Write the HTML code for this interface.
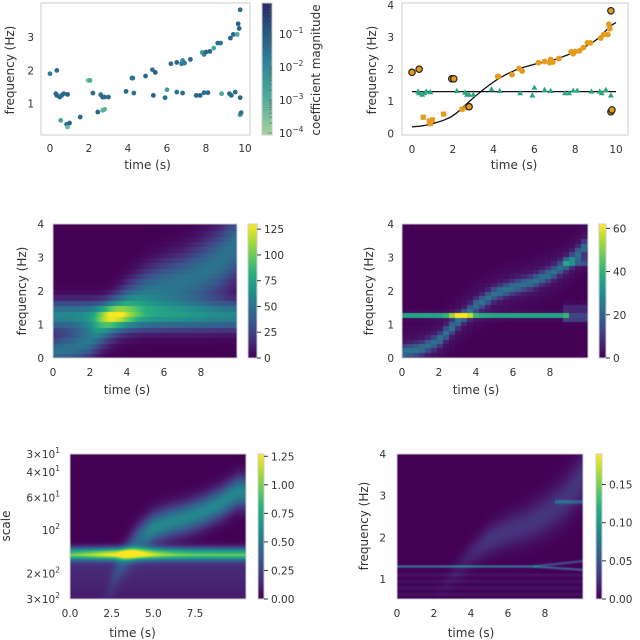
<!DOCTYPE html>
<html><head><meta charset="utf-8"><style>
body{margin:0;background:#fff;width:640px;height:640px;overflow:hidden;position:relative;font-family:"Liberation Sans","DejaVu Sans",sans-serif}
canvas{position:absolute}
svg{position:absolute;left:0;top:0}
text{font-family:"DejaVu Sans","Liberation Sans",sans-serif;fill:#333;font-size:10.5px}
</style></head><body>
<canvas id="c3"></canvas>
<canvas id="c4"></canvas>
<canvas id="c5"></canvas>
<canvas id="c6"></canvas>
<canvas id="cb1"></canvas>
<canvas id="cb3"></canvas>
<canvas id="cb4"></canvas>
<canvas id="cb5"></canvas>
<canvas id="cb6"></canvas>
<svg id="s" width="640" height="640"></svg>
<script>
// ---- data ----
const chirpT=[0.55,0.85,0.9,1.0,1.55,2.45,2.7,4.2,4.25,4.9,5.25,5.4,6.2,6.5,6.75,6.8,6.9,7.2,7.8,7.9,8.0,8.2,8.4,8.6,8.75,9.25,9.4,9.6,9.65,9.7];
const chirpF=[0.5,0.38,0.3,0.42,0.6,0.75,0.8,1.77,1.77,1.83,2.02,1.94,2.2,2.24,2.2,2.3,2.22,2.33,2.54,2.48,2.55,2.57,2.67,2.82,2.82,2.97,3.08,3.08,3.4,3.26];
const chirpMag=[-2.6,-1.2,-3.2,-1.0,-1.2,-1.1,-3.0,-1.3,-1.5,-1.2,-1.5,-1.0,-1.2,-1.1,-1.5,-2.0,-1.6,-1.2,-2.5,-1.8,-1.2,-1.2,-2.7,-1.3,-1.4,-1.1,-1.2,-2.8,-1.0,-1.2];
const toneT=[0.3,0.35,0.5,0.6,0.7,0.9,2.2,2.6,2.7,2.8,3.0,3.9,4.3,5.3,5.9,6.0,6.5,6.8,7.5,7.7,7.9,8.1,8.8,9.2,9.3,9.5,9.75];
const toneF=[1.3,1.25,1.2,1.25,1.3,1.28,1.32,1.27,1.2,1.2,1.2,1.37,1.32,1.25,1.18,1.42,1.35,1.32,1.25,1.25,1.33,1.33,1.3,1.3,1.25,1.35,1.18];
const toneMag=[-1.3,-1.2,-1.2,-1.3,-1.2,-1.1,-1.3,-1.4,-1.2,-1.3,-1.2,-1.2,-1.3,-1.1,-1.3,-2.5,-1.4,-1.3,-1.2,-1.1,-1.3,-1.2,-2.8,-1.3,-1.2,-1.3,-1.2];
const outT=[0.0,0.35,1.95,2.05,2.8,9.75,9.75,9.8];
const outF=[1.9,2.0,1.7,1.7,0.83,3.82,0.67,0.73];
const outMag=[-1.6,-1.3,-3.5,-2.8,-3.0,-1.3,-2.4,-1.4];
const fitT=[0,1,2,3,4,5,6,7,8,9,10];
const fitF=[0.2,0.3,0.55,1.1,1.6,1.95,2.15,2.3,2.55,2.9,3.45];
const toneLevel=1.3;
const crossT=3.3;
const xTicks10=[0,2,4,6,8,10];
const xTicks8=[0,2,4,6,8];
const xTicks5=[0,2.5,5,7.5];
const xTicks5Lab=["0.0","2.5","5.0","7.5"];
const fTicks=[0,1,2,3,4];
const cb3Ticks=[0,25,50,75,100,125];
const cb4Ticks=[0,20,40,60];
const cb5Ticks=[0,0.25,0.5,0.75,1.0,1.25];
const cb5Lab=["0.00","0.25","0.50","0.75","1.00","1.25"];
const cb6Ticks=[0,0.05,0.1,0.15];
const cb6Lab=["0.00","0.05","0.10","0.15"];
const scaleTicks=[30,40,60,100,200,300];
const scaleLab=[["3","1"],["4","1"],["6","1"],[null,"2"],["2","2"],["3","2"]];
const magTicks=[-4,-3,-2,-1];

// ---- helpers ----
const S=document.getElementById('s');const NS='http://www.w3.org/2000/svg';
function el(tag,a,p){const e=document.createElementNS(NS,tag);for(const k in a)e.setAttribute(k,a[k]);(p||S).appendChild(e);return e;}
function txt(x,y,s,anchor,size,rot){const t=el('text',{x:x,y:y,'text-anchor':anchor||'middle'});if(size)t.style.fontSize=size+'px';if(rot)t.setAttribute('transform','rotate(-90 '+x+' '+y+')');t.textContent=s;return t;}
function lin(d0,d1,r0,r1){return v=>r0+(v-d0)/(d1-d0)*(r1-r0);}
function interp(xs,ys,x){if(x<=xs[0])return ys[0];for(let i=1;i<xs.length;i++){if(x<=xs[i]){const u=(x-xs[i-1])/(xs[i]-xs[i-1]);return ys[i-1]+u*(ys[i]-ys[i-1]);}}return ys[ys.length-1];}
const VIR=[[0,[68,1,84]],[0.13,[71,44,122]],[0.25,[59,82,139]],[0.38,[44,114,142]],[0.5,[33,145,140]],[0.63,[39,173,129]],[0.75,[94,201,98]],[0.88,[170,220,50]],[1,[253,231,37]]];
const CREST=[[0,[167,212,155]],[0.3,[75,170,155]],[0.6,[43,124,150]],[0.8,[40,84,128]],[1,[40,42,105]]];
function cmap(st,v){v=Math.max(0,Math.min(1,v));for(let i=1;i<st.length;i++){if(v<=st[i][0]){const u=(v-st[i-1][0])/(st[i][0]-st[i-1][0]);const a=st[i-1][1],b=st[i][1];return 'rgb('+a.map((c,j)=>Math.round(c+u*(b[j]-c))).join(',')+')';}}return 'rgb('+st[st.length-1][1].join(',')+')';}
function setupCanvas(id,x0,y0,x1,y1){const c=document.getElementById(id);c.width=x1-x0;c.height=y1-y0;c.style.left=x0+'px';c.style.top=y0+'px';return c.getContext('2d');}
function frame(x0,y0,x1,y1,name){const r=el('rect',{x:x0,y:y0,width:x1-x0,height:y1-y0,fill:'none',stroke:'#cccccc','stroke-width':1});}
function xAxis(ticks,labs,sx,yb,labelY){ticks.forEach((t,i)=>{const tl=txt(sx(t),yb+17,labs?labs[i]:String(t));});const l=txt((sx(ticks[0])+sx(ticks[ticks.length-1]))/2,labelY,'time (s)','middle',12);}
function yAxis(ticks,sy,xl){ticks.forEach(t=>{const tl=txt(xl,sy(t)+4,String(t),'end');});}
function yTitle(x,y,s){const t=txt(x,y,s,'middle',12,true);}
function colorbar(id,x0,y0,x1,y1,st,ticks,labs,vmax){const c=setupCanvas(id,x0,y0,x1,y1);const h=y1-y0;for(let i=0;i<h;i++){c.fillStyle=cmap(st,1-i/h);c.fillRect(0,i,x1-x0,1);}
 frame(x0,y0,x1,y1,'colorbar-frame');const sy=lin(0,vmax,y1,y0);ticks.forEach((t,i)=>{const y=sy(t);el('line',{x1:x1,x2:x1+4,y1:y,y2:y,stroke:'#333','stroke-width':1});const tl=txt(x1+7,y+4,labs?labs[i]:String(t),'start');});}

// ===== Panel 1 =====
(function(){const x0=41,x1=250,y0=3,y1=135;const sx=lin(0,10,50,245),sy=lin(0,1,137,103.7);
 frame(x0,y0,x1,y1,'scatter-plot-frame');
 const sm=lin(-4,0,0,1);
 function dots(T,F,M,name){T.forEach((t,i)=>{const c=el('circle',{cx:sx(t),cy:sy(F[i]),r:2.4,fill:cmap(CREST,sm(M[i]))});});}
 dots(toneT,toneF,toneMag,'tone-point');dots(chirpT,chirpF,chirpMag,'chirp-point');dots(outT,outF,outMag,'outlier-point');
 xAxis(xTicks10,null,sx,y1,169);yAxis([1,2,3],sy,34);yTitle(14,70,'frequency (Hz)');
 const cy0=3,cy1=135;const c=setupCanvas('cb1',262,cy0,272,cy1);for(let i=0;i<cy1-cy0;i++){c.fillStyle=cmap(CREST,1-i/(cy1-cy0));c.fillRect(0,i,10,1);}
 frame(262,cy0,272,cy1,'colorbar-frame');const smy=lin(-4,-0.06,133,3);
 for(let d=-4;d<0;d++){for(let k=1;k<10;k++){const v=d+Math.log10(k);if(v>-0.06)break;const y=smy(v);el('line',{x1:k==1?268:269,x2:272,y1:y,y2:y,stroke:'#666','stroke-width':0.6});}}
 magTicks.forEach(m=>{const y=smy(m);const t=el('text',{x:279,y:y+4,'text-anchor':'start'});t.textContent='10';const s=el('tspan',{dy:-5},t);s.style.fontSize='7.5px';s.textContent='\u2212'+(-m);});
 const l=txt(320,70,'coefficient magnitude','middle',12,true);
})();

// ===== Panel 2 =====
(function(){const x0=402,x1=628,y0=3,y1=135;const sx=lin(0,10,412,616),sy=lin(0,4,133.3,5);
 frame(x0,y0,x1,y1,'ridge-plot-frame');
 let d='';for(let t=0;t<=10.001;t+=0.1){d+=(t?'L':'M')+sx(t).toFixed(1)+','+sy(interpS(t)).toFixed(1);}
 function interpS(t){// smooth (Catmull-Rom) through fit arrays
  const n=fitT.length;let i=Math.min(n-2,Math.floor(t));const u=t-fitT[i];const p0=fitF[Math.max(0,i-1)],p1=fitF[i],p2=fitF[i+1],p3=fitF[Math.min(n-1,i+2)];
  return 0.5*((2*p1)+(-p0+p2)*u+(2*p0-5*p1+4*p2-p3)*u*u+(-p0+3*p1-3*p2+p3)*u*u*u);}
 const tl=el('line',{x1:sx(0),x2:sx(10),y1:sy(toneLevel),y2:sy(toneLevel),stroke:'#111','stroke-width':1.3});
 const cl=el('path',{d:d,fill:'none',stroke:'#111','stroke-width':1.3});
 toneT.forEach((t,i)=>{const x=sx(t),y=sy(toneF[i]);const p=el('polygon',{points:`${x},${y-3.2} ${x-3},${y+2} ${x+3},${y+2}`,fill:'#2aa580'});});
 chirpT.forEach((t,i)=>{const x=sx(t),y=sy(chirpF[i]);let p;if(t<3)p=el('rect',{x:x-2.6,y:y-2.6,width:5.2,height:5.2,fill:'#e69a1e'});else p=el('circle',{cx:x,cy:y,r:2.9,fill:'#e69a1e'});});
 outT.forEach((t,i)=>{const p=el('circle',{cx:sx(t),cy:sy(outF[i]),r:3.2,fill:'#e69a1e',stroke:'#222','stroke-width':1.2});});
 xAxis(xTicks10,null,sx,y1+1,169);yAxis(fTicks,sy,394);yTitle(376,70,'frequency (Hz)');
})();

const ridge=t=>interp(fitT,fitF,t);
// ===== Panel 3 =====
(function(){const x0=53,x1=237,y0=224,y1=358;const c=setupCanvas('c3',x0,y0,x1,y1);const tAt=lin(x0,x1,0,9.95);const df=0.16;const ya=lin(0,4,y1,y0);
 for(let px=x0;px<x1;px++){const t=tAt(px+0.5);const r=ridge(t);const w=0.3+0.04*t;
  for(let f=-0.02;f<4;f+=df){const fc=f+df/2;let v=58*Math.exp(-Math.pow((fc-toneLevel)/0.3,2)/2)+48*Math.exp(-Math.pow((fc-r)/w,2)/2);
   v+=28*Math.exp(-Math.pow((t-crossT)/0.7,2)/2)*Math.exp(-Math.pow((fc-toneLevel)/0.15,2)/2);
   c.fillStyle=cmap(VIR,v/125);c.fillRect(px-x0,Math.floor(ya(f+df)-y0),1,Math.ceil(ya(f)-ya(f+df))+1);}}
 frame(x0,y0,x1,y1,'spectrogram-frame');const sx=lin(0,9.95,x0,x1),sy=lin(0,4,y1,y0);
 xAxis(xTicks8,null,sx,y1+1,394);yAxis(fTicks,sy,44);yTitle(26,291,'frequency (Hz)');
 colorbar('cb3',248,y0,257,y1,VIR,cb3Ticks,null,130);
})();

// ===== Panel 4 =====
(function(){const x0=402,x1=588,y0=224,y1=358;const c=setupCanvas('c4',x0,y0,x1,y1);const dt=0.32,df=0.13;const sx=lin(0,10,x0,x1+1),sy=lin(0,4,y1,y0);
 const fStart=toneLevel-df/2-Math.ceil((toneLevel-df/2)/df)*df;
 for(let t=0;t<10;t+=dt){const tc=t+dt/2;const r=ridge(tc);
  for(let f=fStart;f<4;f+=df){const fc=f+df/2;let v=(tc<9.0?36:8)*Math.exp(-Math.pow((fc-toneLevel)/0.05,2)/2)+20*Math.exp(-Math.pow((fc-r)/0.13,2)/2)+4*Math.exp(-Math.pow((fc-r)/0.4,2)/2);
   v+=24*Math.exp(-Math.pow((tc-3.1)/0.35,2)/2)*Math.exp(-Math.pow((fc-toneLevel)/0.05,2)/2);
   if(tc>8.8){v+=16*Math.exp(-Math.pow((fc-2.9)/0.07,2)/2)+12*Math.exp(-Math.pow((fc-1.2)/0.07,2)/2)+8*Math.exp(-Math.pow((fc-1.5)/0.1,2)/2);}
   c.fillStyle=cmap(VIR,v/62);c.fillRect(Math.floor(sx(t)-x0),Math.floor(sy(f+df)-y0),Math.ceil(sx(t+dt)-sx(t))+1,Math.ceil(sy(f)-sy(f+df))+1);}}
 frame(x0,y0,x1,y1,'reassigned-frame');
 xAxis(xTicks8,null,lin(0,2,402,439),y1+1,394);yAxis(fTicks,sy,394);yTitle(373,291,'frequency (Hz)');
 colorbar('cb4',599,y0,606,y1,VIR,cb4Ticks,null,62);
})();

// ===== Panel 5 =====
(function(){const x0=70,x1=246,y0=454,y1=599;const c=setupCanvas('c5',x0,y0,x1,y1);const tAt=lin(x0,x1,0,10.5);const k=190;const sTone=k/toneLevel;
 const syLog=s=>y0+145*Math.log10(s/30);
 for(let px=x0;px<x1;px++){const t=tAt(px+0.5);const sC=k/ridge(t);
  for(let py=y0;py<y1;py++){const s=30*Math.pow(10,(py+0.5-y0)/145);const dT=Math.log10(s/sTone),dC=Math.log10(s/sC);
   const ca=0.55*Math.min(1,Math.max(0,(t-2.3)/2.5))+0.05;
   let v=0.85*Math.exp(-Math.pow(dT/0.03,2)/2)+ca*Math.exp(-Math.pow(dC/0.075,2)/2);
   v+=0.4*Math.exp(-Math.pow((t-crossT)/1.6,2)/2)*Math.exp(-Math.pow(dT/0.025,2)/2);
   if(s>sTone)v+=0.17*Math.exp(-Math.pow(dT/0.3,2)/2);
   c.fillStyle=cmap(VIR,v/1.3);c.fillRect(px-x0,py-y0,1,1);}}
 frame(x0,y0,x1,y1,'scalogram-frame');
 xAxis(xTicks5,xTicks5Lab,lin(0,7.5,70,195),y1+1,637);
 scaleTicks.forEach((s,i)=>{const y=syLog(s)+4;const L=scaleLab[i];const t=el('text',{x:60,y:y,'text-anchor':'end'});t.textContent=L[0]?L[0]+'\u00d710':'10';const sp=el('tspan',{dy:-5},t);sp.style.fontSize='7.5px';sp.textContent=L[1];});
 yTitle(10,526,'scale');
 colorbar('cb5',258,y0,264,y1,VIR,cb5Ticks,cb5Lab,1.27);
})();

// ===== Panel 6 =====
(function(){const x0=397,x1=583,y0=454,y1=599;const c=setupCanvas('c6',x0,y0,x1,y1);const tAt=lin(x0,x1,0,10),fAt=lin(579,454,1,4);
 for(let px=x0;px<x1;px++){const t=tAt(px+0.5);const r=ridge(t);
  for(let py=y0;py<y1;py++){const f=fAt(py+0.5);
   let v=0;
   if(t<7.3)v+=0.085*Math.exp(-Math.pow((f-toneLevel)/0.018,2)/2);
   else{const sp=(t-7.3)*0.06;v+=0.05*Math.exp(-Math.pow((f-toneLevel-sp*0.8)/0.02,2)/2)+0.06*Math.exp(-Math.pow((f-toneLevel+sp*0.5)/0.02,2)/2);}
   if(t>2)v+=0.03*Math.min(1,(t-2)/3)*Math.exp(-Math.pow((f-r)/(0.1+0.03*t),2)/2);
   if(f<1.15)v+=0.01*(0.5+0.5*Math.cos(f*40));
   if(t>8.5){v+=0.05*Math.exp(-Math.pow((f-2.85)/0.03,2)/2);}
   c.fillStyle=cmap(VIR,v/0.19);c.fillRect(px-x0,py-y0,1,1);}}
 frame(x0,y0,x1,y1,'synchro-frame');
 xAxis(xTicks8,null,lin(0,2,397,434),y1+1,637);yAxis([1,2,3,4],lin(1,4,579,454),386);yTitle(368,526,'frequency (Hz)');
 colorbar('cb6',596,y0,602,y1,VIR,cb6Ticks,cb6Lab,0.19);
})();
</script></body></html>
